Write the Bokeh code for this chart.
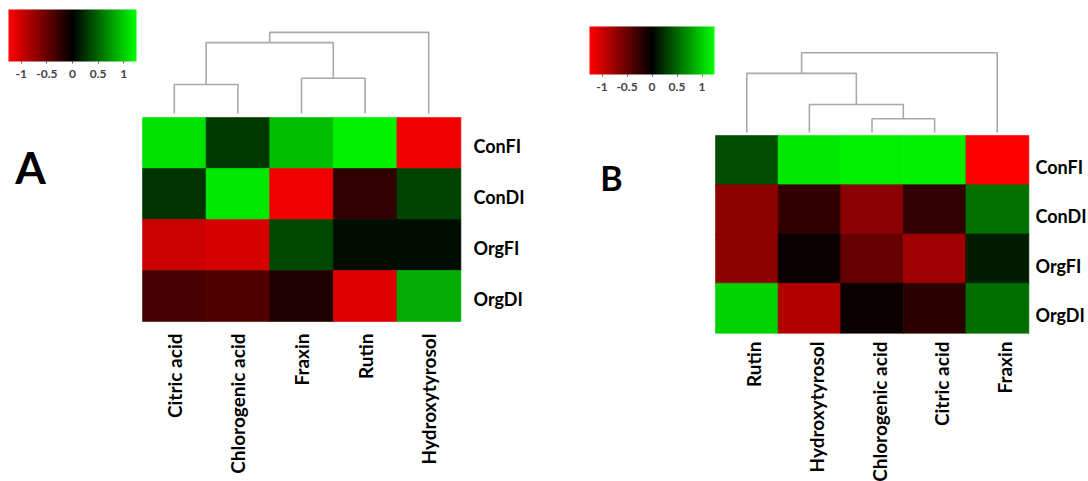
import numpy as np
from bokeh.plotting import figure
from bokeh.models import (Range1d, ColumnDataSource, LabelSet, Label, ColorBar,
                          LinearColorMapper, FixedTicker)
from bokeh.transform import linear_cmap
from bokeh.layouts import row
from bokeh.core.properties import value
from bokeh.embed import file_html
from bokeh.resources import INLINE

# ---------------- data ----------------
rows = ["ConFI", "ConDI", "OrgFI", "OrgDI"]

cols_a = ["Citric acid", "Chlorogenic acid", "Fraxin", "Rutin", "Hydroxytyrosol"]
vals_a = [
    [1.10, 0.28, 0.92, 1.18, -1.18],
    [0.25, 1.13, -1.18, -0.24, 0.33],
    [-1.00, -1.04, 0.35, 0.06, 0.06],
    [-0.36, -0.40, -0.15, -1.08, 0.84],
]
# linkage (left, right, height); leaves 0..4 follow column order, merges numbered 5, 6, ...
link_a = [(0, 1, 0.57), (2, 3, 0.69), (5, 6, 1.39), (7, 4, 1.59)]

cols_b = ["Rutin", "Hydroxytyrosol", "Chlorogenic acid", "Citric acid", "Fraxin"]
vals_b = [
    [0.38, 1.14, 1.18, 1.18, -1.25],
    [-0.69, -0.25, -0.68, -0.24, 0.55],
    [-0.69, -0.05, -0.49, -0.78, 0.14],
    [1.02, -0.86, -0.05, -0.21, 0.54],
]
link_b = [(2, 3, 0.28), (1, 5, 0.57), (0, 6, 1.20), (7, 4, 1.62)]

cbar_ticks = [-1, -0.5, 0, 0.5, 1]
cbar_tick_labels = ["-1", "-0.5", "0", "0.5", "1"]
vmin, vmax = -1.25, 1.25

# red - black - green palette
palette = []
for i in range(256):
    t = i / 255 * 2 - 1
    if t < 0:
        palette.append("#%02x0000" % int(round(-t * 255)))
    else:
        palette.append("#00%02x00" % int(round(t * 255)))

FONT = "Lato"


def dendro_segments(link, n, base):
    pos = {i: (i + 0.5, base) for i in range(n)}
    xs, ys = [], []
    k = n
    for a, b, h in link:
        xa, ya = pos[a]
        xb, yb = pos[b]
        top = base + h
        xs.append([xa, xa, xb, xb])
        ys.append([ya, top, top, yb])
        pos[k] = ((xa + xb) / 2, top)
        k += 1
    return xs, ys


def panel(cols, vals, link, letter, W, H, pad_left, pad_top, heat_left, heat_right,
          heat_top, heat_bottom, leaf_gap, cb_x, cb_top, cb_w, cb_h, letter_xy,
          letter_size, xlab_dy, xlab_dx, ylab_dx, ylab_dy):
    # heat_* are pixel positions of the heatmap inside the figure
    nc, nr = len(cols), len(rows)
    col_px = (heat_right - heat_left) / nc
    row_px = (heat_bottom - heat_top) / nr
    p = figure(width=W, height=H,
               x_range=Range1d(-(heat_left - pad_left) / col_px, nc + (W - heat_right) / col_px),
               y_range=Range1d(-(H - heat_bottom) / row_px, nr + (heat_top - pad_top) / row_px),
               output_backend="svg", toolbar_location=None,
               x_axis_location=None, y_axis_location=None,
               min_border_left=pad_left, min_border_top=pad_top,
               min_border_right=0, min_border_bottom=0)
    p.grid.visible = False
    p.outline_line_color = None
    p.background_fill_color = "white"
    p.border_fill_color = "white"

    xs, ys, vs = [], [], []
    for r, rv in enumerate(vals):
        for c, v in enumerate(rv):
            xs.append(c + 0.5)
            ys.append(nr - r - 0.5)
            vs.append(v)
    src = ColumnDataSource(dict(x=xs, y=ys, v=vs))
    cmap = linear_cmap("v", palette, vmin, vmax)
    p.rect(x="x", y="y", width=1, height=1, source=src, fill_color=cmap,
           line_color=cmap, line_width=0.6, dilate=True)

    dx, dy = dendro_segments(link, nc, nr + leaf_gap / row_px)
    p.multi_line(xs=dx, ys=dy, line_color="#a8a8a8", line_width=1.6)

    xl = ColumnDataSource(dict(x=[i + 0.5 for i in range(nc)], y=[0] * nc, t=cols))
    p.add_layout(LabelSet(x="x", y="y", text="t", source=xl, angle=np.pi / 2,
                          text_align="right", text_baseline="middle",
                          x_offset=xlab_dx, y_offset=-xlab_dy,
                          text_font=value(FONT), text_font_style="bold",
                          text_font_size="19px", text_color="black"))
    yl = ColumnDataSource(dict(x=[nc] * nr, y=[nr - r - 0.5 for r in range(nr)], t=rows))
    p.add_layout(LabelSet(x="x", y="y", text="t", source=yl,
                          text_align="left", text_baseline="middle",
                          x_offset=ylab_dx, y_offset=-ylab_dy,
                          text_font=value(FONT), text_font_style="bold",
                          text_font_size="18px", text_color="black"))

    p.add_layout(Label(x=(letter_xy[0] - heat_left) / col_px,
                       y=(heat_bottom - letter_xy[1]) / row_px, text=letter,
                       text_align="center", text_baseline="middle",
                       text_font=FONT, text_font_style="bold",
                       text_font_size=letter_size, text_color="black"))

    frame_h = H - pad_top
    box_h = cb_h + 19
    cb = ColorBar(color_mapper=LinearColorMapper(palette=palette, low=vmin, high=vmax),
                  orientation="horizontal",
                  location=(cb_x - pad_left, frame_h - (cb_top - pad_top) - box_h),
                  width=cb_w, height=cb_h, padding=0,
                  ticker=FixedTicker(ticks=cbar_ticks),
                  major_label_overrides=dict(zip(cbar_ticks, cbar_tick_labels)),
                  major_label_text_font=FONT, major_label_text_font_style="bold",
                  major_label_text_font_size="12px", label_standoff=6,
                  major_tick_line_color="#555555", major_tick_out=2, major_tick_in=0,
                  background_fill_alpha=0, border_line_color=None, bar_line_color=None)
    p.add_layout(cb)
    return p


pA = panel(cols_a, vals_a, link_a, "A", W=560, H=481, pad_left=8, pad_top=8,
           heat_left=142, heat_right=460, heat_top=117, heat_bottom=321, leaf_gap=4,
           cb_x=8, cb_top=9, cb_w=128, cb_h=52, letter_xy=(30, 166),
           letter_size="44px", xlab_dy=12, xlab_dx=0, ylab_dx=13, ylab_dy=3)
pB = panel(cols_b, vals_b, link_b, "B", W=528, H=481, pad_left=0, pad_top=8,
           heat_left=715 - 560, heat_right=1028 - 560, heat_top=135, heat_bottom=332,
           leaf_gap=3, cb_x=589 - 560, cb_top=26, cb_w=125, cb_h=48,
           letter_xy=(611 - 560, 177), letter_size="34px", xlab_dy=9, xlab_dx=7,
           ylab_dx=7, ylab_dy=7)

layout = row(pA, pB)
open("out.html", "w").write(file_html(layout, INLINE))
